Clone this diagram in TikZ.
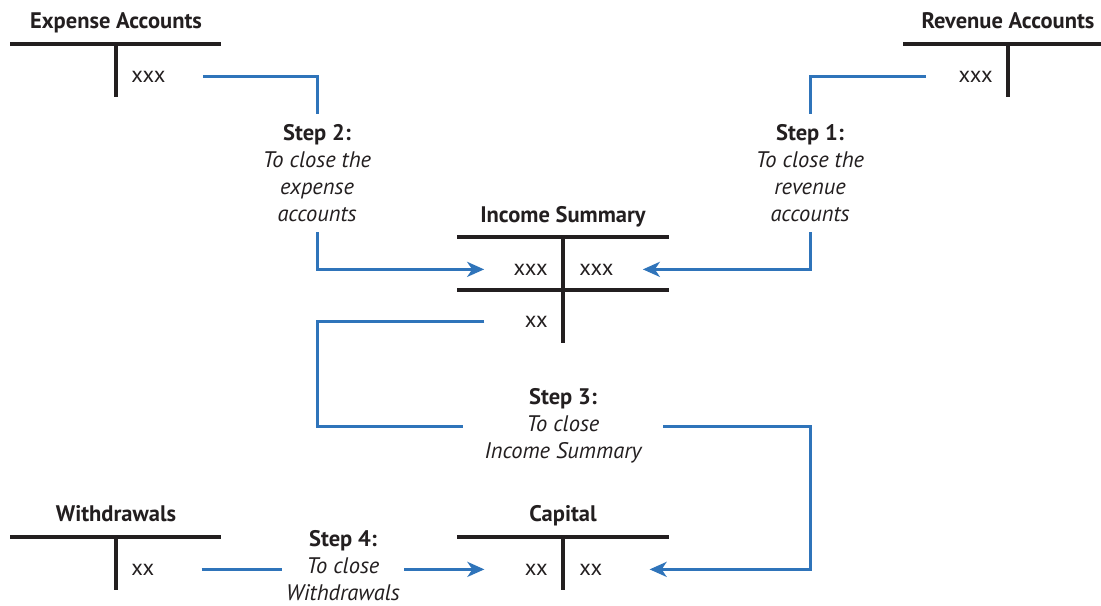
\documentclass[tikz,border=0pt]{standalone}
\usepackage{fontspec}
\setmainfont{PT Sans}
\usetikzlibrary{arrows.meta}
\definecolor{stepblue}{RGB}{47,116,186}
\definecolor{inkgray}{RGB}{35,31,32}

\begin{document}
\begin{tikzpicture}[x=0.5pt,y=-0.5pt,
  tline/.style={draw=inkgray,line width=1.8pt},
  flow/.style={draw=stepblue,line width=1.5pt},
  flowto/.style={flow,-{Stealth[length=8.5pt,width=7.5pt,inset=2.5pt]}},
  acct/.style={font=\fontsize{11.25}{13.5}\selectfont\bfseries,text=inkgray,anchor=base,inner sep=0pt},
  amt/.style={font=\fontsize{11.25}{13.5}\selectfont,text=inkgray,inner sep=0pt},
  steptext/.style={align=center,font=\fontsize{11.25}{13.5}\selectfont\itshape,text=inkgray,inner xsep=0pt,inner ysep=5pt}]
\useasboundingbox (0,0) rectangle (1101,605);

% T accounts
\node[acct] (exptitle) at (116,28) {Expense Accounts};
\draw[tline] (10,44) -- (221,44);
\draw[tline] (116,44) -- (116,97);
\node[amt,anchor=base west] (expamt) at (131,82) {xxx};

\node[acct] (revtitle) at (1008,28) {Revenue Accounts};
\draw[tline] (903,44) -- (1101,44);
\draw[tline] (1008,44) -- (1008,97);
\node[amt,anchor=base east] (revamt) at (993,82) {xxx};

\node[acct] (istitle) at (563,222) {Income Summary};
\draw[tline] (457,237) -- (669,237);
\draw[tline] (457,290) -- (669,290);
\draw[tline] (563,237) -- (563,343);
\node[amt,anchor=base east] (isleftamt) at (548,275) {xxx};
\node[amt,anchor=base west] (isrightamt) at (579,275) {xxx};
\node[amt,anchor=base east] (isbalamt) at (548,327) {xx};

\node[acct] (wdtitle) at (116,521) {Withdrawals};
\draw[tline] (10,537) -- (221,537);
\draw[tline] (116,537) -- (116,590);
\node[amt,anchor=base west] (wdamt) at (131,575) {xx};

\node[acct] (captitle) at (563,521) {Capital};
\draw[tline] (457,537) -- (669,537);
\draw[tline] (563,537) -- (563,590);
\node[amt,anchor=base east] (capleftamt) at (548,575) {xx};
\node[amt,anchor=base west] (caprightamt) at (579,575) {xx};

% steps
\node[steptext,anchor=north] (step1) at (810,114) {\textup{\textbf{Step 1:}}\\To close the\\revenue\\accounts};
\node[steptext,anchor=north] (step2) at (317,114) {\textup{\textbf{Step 2:}}\\To close the\\expense\\accounts};
\node[steptext,minimum width=100pt] (step3) at (563,426) {\textup{\textbf{Step 3:}}\\To close\\Income Summary};
\node[steptext,minimum width=61pt] (step4) at (343,566) {\textup{\textbf{Step 4:}}\\To close\\Withdrawals};

% closing entries
\draw[flow,shorten <=16pt] (revamt.west) -| (step1.north);
\draw[flowto,shorten >=14.5pt] (step1.south) |- (isrightamt.east);
\draw[flow,shorten <=18.5pt] (expamt.east) -| (step2.north);
\draw[flowto,shorten >=14.5pt] (step2.south) |- (isleftamt.west);
\draw[flow,shorten <=20pt] (isbalamt.west) -| (step2.south |- step3.west) -- (step3.west);
\draw[flowto,shorten >=23.5pt] (step3.east) -| (step1.south |- caprightamt.east) -- (caprightamt.east);
\draw[flow,shorten <=23.5pt] (wdamt.east) -- (wdamt.east -| step4.west);
\draw[flowto,shorten >=20pt] (step4.east |- capleftamt.west) -- (capleftamt.west);
\end{tikzpicture}
\end{document}
